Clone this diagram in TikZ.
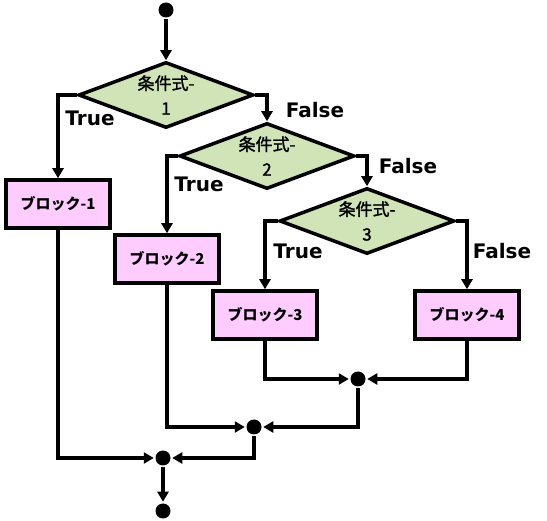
\documentclass[tikz,border=0pt]{standalone}
\usepackage{fontspec}
\setmainfont{DejaVu Sans}
\newfontfamily\jpfont{Noto Sans CJK JP}
\newfontfamily\jpmid[FakeBold=1.6]{Noto Sans CJK JP}
\usetikzlibrary{shapes.geometric,arrows.meta}
\definecolor{condgreen}{HTML}{D0E4B8}
\definecolor{blkpink}{HTML}{FFCCFF}
\begin{document}
\begin{tikzpicture}[x=1pt,y=-1pt,line width=3.5pt,
  cond/.style={diamond, draw, fill=condgreen, minimum width=175pt, minimum height=66pt, inner sep=0pt},
  condtext/.style={align=center, inner sep=0pt, font=\jpmid\fontsize{17}{25}\selectfont},
  blk/.style={rectangle, draw, fill=blkpink, minimum width=104pt, minimum height=48pt, inner sep=0pt, font=\jpfont\bfseries\fontsize{15}{17}\selectfont},
  dot/.style={circle, fill=black, minimum size=15pt, inner sep=0pt},
  arr/.style={-{Triangle[length=10pt,width=11pt]}},
  lbl/.style={font=\bfseries\fontsize{20}{22}\selectfont, inner sep=0pt}
]
\useasboundingbox (0,0) rectangle (547,521);
\node[dot] (s) at (166,10) {};
\node[cond] (d1) at (166,95) {};
\node[cond] (d2) at (267,156) {};
\node[cond] (d3) at (367,221) {};
\node[condtext] (d1t) at (d1) {条件式-\\1};
\node[condtext] (d2t) at (d2) {条件式-\\2};
\node[condtext] (d3t) at (d3) {条件式-\\3};
\node[blk] (b1) at (58,204) {ブロック-1};
\node[blk] (b2) at (167,259) {ブロック-2};
\node[blk] (b3) at (265,315) {ブロック-3};
\node[blk] (b4) at (467,315) {ブロック-4};
\node[dot] (m3) at (358,379) {};
\node[dot] (m2) at (254,427) {};
\node[dot] (m1) at (163,458) {};
\node[dot] (e) at (163,511) {};
\draw[arr] (s) -- (d1);
\draw[arr] (d1.west) -| (b1.north);
\draw[arr] (d1.east) -| (d2.north);
\draw[arr] (d2.west) -| (b2.north);
\draw[arr] (d2.east) -| (d3.north);
\draw[arr] (d3.west) -| (b3.north);
\draw[arr] (d3.east) -| (b4.north);
\draw[arr] (b3.south) |- (m3);
\draw[arr] (b4.south) |- (m3);
\draw[arr] (b2.south) |- (m2);
\draw[arr] (m3) |- (m2);
\draw[arr] (b1.south) |- (m1);
\draw[arr] (m2) |- (m1);
\draw[arr] (m1) -- (e);
\node[lbl] (t1) at (90,118) {True};
\node[lbl] (f1) at (315,110) {False};
\node[lbl] (t2) at (199,184) {True};
\node[lbl] (f2) at (408,166) {False};
\node[lbl] (t3) at (298,251) {True};
\node[lbl] (f3) at (502,251) {False};
\end{tikzpicture}
\end{document}
